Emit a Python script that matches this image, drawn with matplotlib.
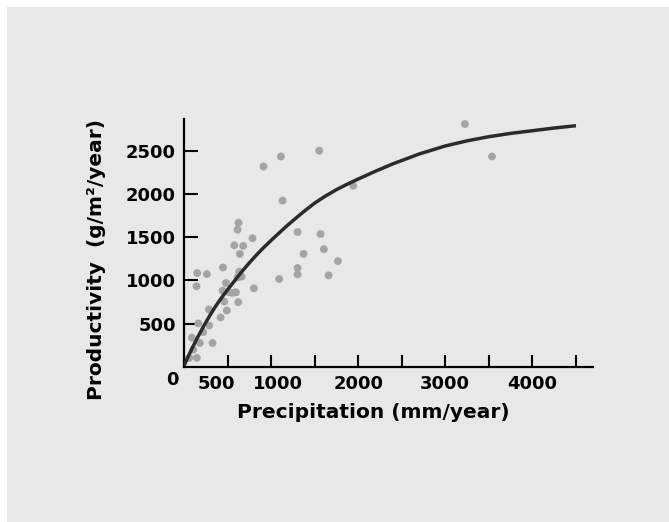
import numpy as np
import matplotlib.pyplot as plt
from matplotlib.patches import Rectangle
from matplotlib.transforms import ScaledTranslation


# scatter values (mm/year, g/m2/year)
precip = [3225, 3536, 1553, 1112, 913, 1132, 1943, 1304, 1568, 1373,
          1606, 1767, 1660, 1304, 1304, 1093, 802, 787, 680, 577,
          626, 615, 642, 634, 661, 615, 447, 152, 263, 144,
          481, 443, 519, 596, 557, 462, 623, 492, 286, 420,
          163, 289, 221, 90, 328, 182, 106, 60, 148]
product = [2806, 2431, 2498, 2431, 2316, 1922, 2094, 1559, 1536, 1306,
           1361, 1223, 1059, 1143, 1070, 1016, 909, 1487, 1399, 1406,
           1666, 1586, 1306, 1100, 1043, 1035, 1150, 1085, 1073, 932,
           970, 882, 863, 863, 856, 756, 749, 653, 664, 572,
           504, 480, 404, 339, 278, 278, 201, 106, 106]

# fitted curve, points
curve_x = [0, 50, 100, 150, 230, 300, 365, 420, 500, 580, 675, 750, 830, 900,
           980, 1040, 1100, 1175, 1250, 1375, 1500, 1625, 1750, 1875, 2000,
           2200, 2400, 2700, 3000, 3250, 3500, 3750, 4000, 4250, 4500]
curve_y = [15, 125, 230, 330, 480, 600, 705, 785, 892, 995, 1115, 1203, 1292, 1365,
           1443, 1500, 1555, 1625, 1690, 1795, 1893, 1975, 2048, 2112, 2171,
           2262, 2347, 2460, 2553, 2612, 2660, 2698, 2729, 2760, 2787]

x_ticks = [500, 1000, 1500, 2000, 2500, 3000, 3500, 4000, 4500]
x_labels = ["500", "1000", "", "2000", "", "3000", "", "4000", ""]
y_ticks = [500, 1000, 1500, 2000, 2500]

plt.rcParams['font.family'] = 'DejaVu Sans'
plt.rcParams['font.weight'] = 'bold'

fig = plt.figure(figsize=(6.69, 5.22), dpi=100, facecolor='white')
fig.patches.append(Rectangle((7 / 669, 0), 1 - 7 / 669, 1 - 7 / 522,
                             transform=fig.transFigure, facecolor='#e8e8e8',
                             edgecolor='none', zorder=-1))

ax = fig.add_axes([184 / 669, 155 / 522, 408.5 / 669, 248.5 / 522])
ax.patch.set_visible(False)

ax.scatter(precip, product, s=32, color='#a4a4a4', edgecolors='none', zorder=2)
ax.plot(curve_x, curve_y, color='#2b2b2b', lw=2.5, solid_capstyle='butt',
        solid_joinstyle='round', zorder=3)

ax.set_xlim(0, 4690)
ax.set_ylim(0, 2870)
for side in ['top', 'right']:
    ax.spines[side].set_visible(False)
for side in ['left', 'bottom']:
    ax.spines[side].set_linewidth(1.6)
    ax.spines[side].set_color('black')

ax.set_xticks(x_ticks)
ax.set_xticklabels(x_labels)
ax.set_yticks(y_ticks)
ax.tick_params(axis='x', direction='in', length=9, width=1.5, pad=6, labelsize=13)
ax.tick_params(axis='y', direction='in', length=10, width=1.5, pad=6, labelsize=13)

# the 500 and 1000 labels are pushed apart in the original
ticks = ax.xaxis.get_major_ticks()
for tick, dx in [(ticks[0], -11), (ticks[1], 7)]:
    tick.label1.set_transform(tick.label1.get_transform()
                              + ScaledTranslation(dx / 100, 0, fig.dpi_scale_trans))

ax.annotate("0", xy=(0, 0), xytext=(-12, -13), textcoords='offset pixels',
            ha='center', va='center', fontsize=13, fontweight='bold')

fig.text(373 / 669, 1 - 412 / 522, "Precipitation (mm/year)",
         ha='center', va='center', fontsize=14.5, fontweight='bold')
fig.text(97 / 669, 1 - 260 / 522, "Productivity  (g/m\u00b2/year)",
         ha='center', va='center', rotation=90, fontsize=14.5, fontweight='bold')

fig.savefig("out.png", dpi=100)
